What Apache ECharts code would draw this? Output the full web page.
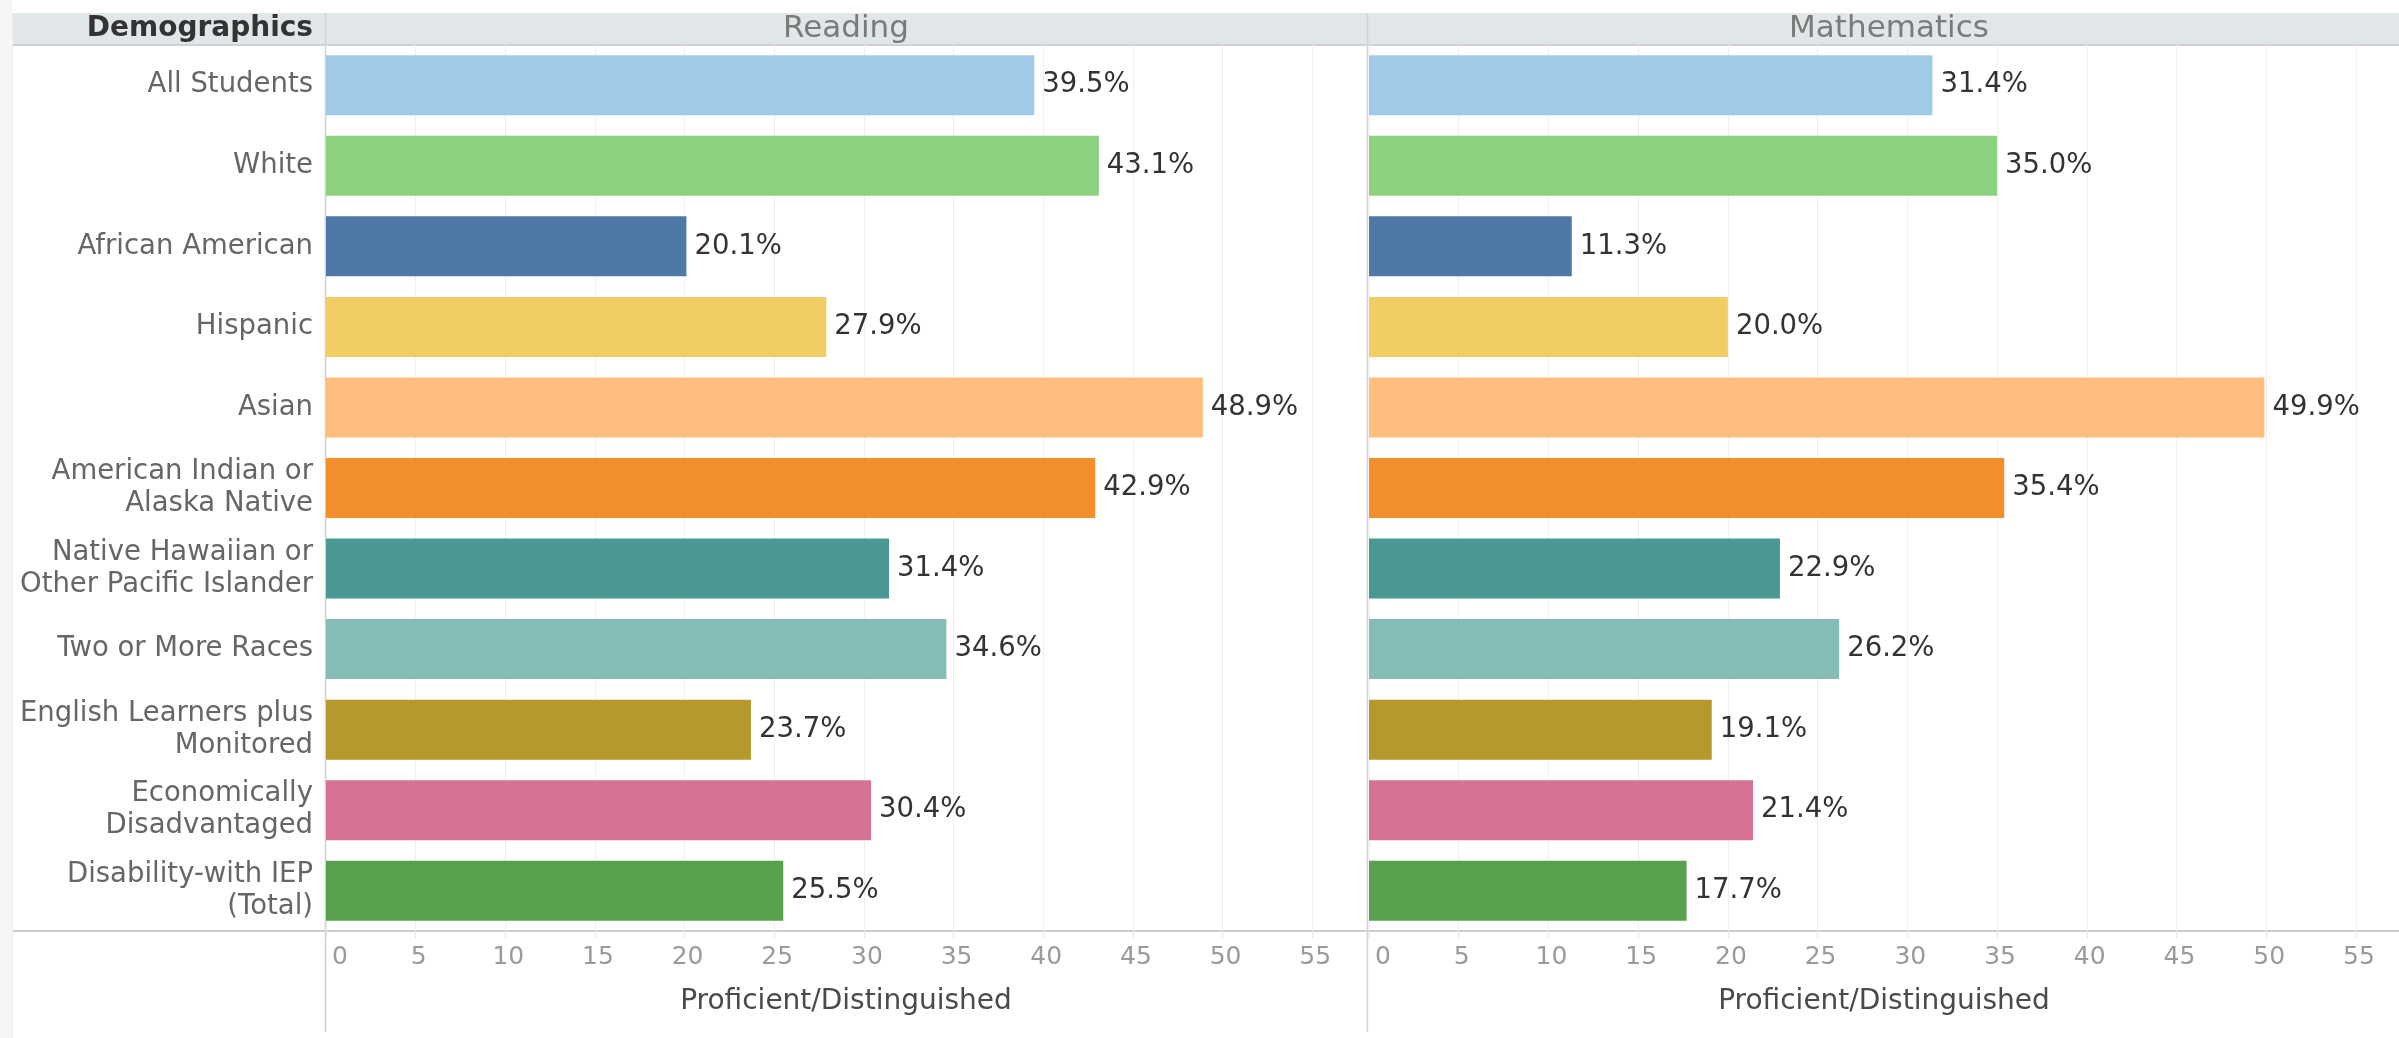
<!DOCTYPE html>
<html>
<head>
<meta charset="utf-8">
<title>Proficient/Distinguished by Demographics</title>
<script src="https://cdn.jsdelivr.net/npm/echarts@6/dist/echarts.min.js"></script>
<style>
  html, body { margin: 0; padding: 0; background: #fff; }
  #chart { width: 2399px; height: 1038px; }
</style>
</head>
<body>
<div id="chart"></div>
<script>
// demographic groups, top to bottom
const categories = [
  'All Students',
  'White',
  'African American',
  'Hispanic',
  'Asian',
  'American Indian or\nAlaska Native',
  'Native Hawaiian or\nOther Pacific Islander',
  'Two or More Races',
  'English Learners plus\nMonitored',
  'Economically\nDisadvantaged',
  'Disability-with IEP\n(Total)'
]
const readingValues = [39.5, 43.1, 20.1, 27.9, 48.9, 42.9, 31.4, 34.6, 23.7, 30.4, 25.5]
const mathValues = [31.4, 35.0, 11.3, 20.0, 49.9, 35.4, 22.9, 26.2, 19.1, 21.4, 17.7]
const barColors = ['#A0CBE8', '#8CD17D', '#4E79A7', '#F1CE63', '#FFBE7D', '#F28E2B',
  '#499894', '#86BCB6', '#B6992D', '#D37295', '#59A14F']
const panelTitles = ['Reading', 'Mathematics']
const axisTitle = 'Proficient/Distinguished'

const FONT = 'DejaVu Sans'
const TOP = 45
const BOTTOM_Y = 931
const panels = [
  { left: 326, width: 1040, max: 58 },
  { left: 1369, width: 1030, max: 57.4 }
]

let chart = echarts.init(document.getElementById('chart'))

let xAxes = panels.map((p, i) => ({
  type: 'value',
  gridIndex: i,
  min: 0,
  max: p.max,
  interval: 5,
  axisLine: { show: false },
  axisTick: { show: true, length: 7, lineStyle: { color: '#e4e4e4' } },
  splitLine: { show: true, lineStyle: { color: '#efefef', width: 1 } },
  axisLabel: {
    fontFamily: FONT, fontSize: 25, color: '#9a9a9a', margin: 14,
    showMaxLabel: false, alignMinLabel: 'left', padding: [0, 0, 0, 6]
  },
  name: axisTitle,
  nameLocation: 'middle',
  nameGap: 57,
  nameTextStyle: { fontFamily: FONT, fontSize: 28, color: '#4a4a4a' }
}))

let yAxes = panels.map((p, i) => ({
  type: 'category',
  gridIndex: i,
  inverse: true,
  data: categories,
  axisLine: { show: false },
  axisTick: { show: false },
  axisLabel: i === 0 ? {
    fontFamily: FONT, fontSize: 27.5, color: '#666', margin: 13, lineHeight: 32, align: 'right'
  } : { show: false }
}))

let series = [readingValues, mathValues].map((vals, i) => ({
  type: 'bar',
  name: panelTitles[i],
  xAxisIndex: i,
  yAxisIndex: i,
  data: vals,
  colorBy: 'data',
  barWidth: 60,
  label: {
    show: true,
    position: 'right',
    distance: 8,
    fontFamily: FONT,
    fontSize: 27.5,
    color: '#333',
    formatter: p => p.value.toFixed(1) + '%'
  }
}))

let line = (x1, y1, x2, y2, color, width) => ({
  type: 'line', silent: true,
  shape: { x1, y1, x2, y2 },
  style: { stroke: color, lineWidth: width || 1 }
})
let text = (t, x, y, align, font, fill) => ({
  type: 'text', silent: true, z: 10,
  style: { text: t, x, y, align, verticalAlign: 'middle', font, fill }
})

let graphics = [
  { type: 'rect', silent: true, shape: { x: 0, y: 0, width: 12, height: 1038 }, style: { fill: '#f6f6f6' } },
  { type: 'rect', silent: true, shape: { x: 13, y: 13, width: 2386, height: 32 }, style: { fill: '#e1e6e8' } },
  line(13, 45, 2399, 45, '#cfd3d5', 2),
  line(13, BOTTOM_Y, 2399, BOTTOM_Y, '#cdcdcd', 2),
  line(325.5, 13, 325.5, 1032, '#d2d2d2', 1.5),
  line(1367.5, 13, 1367.5, 1032, '#d2d2d2', 1.5),
  line(12.5, 13, 12.5, 1038, '#ececec', 1),
  text('Demographics', 313, 29, 'right', 'bold 28px "' + FONT + '"', '#333')
]
panels.forEach((p, i) => {
  graphics.push(text(panelTitles[i], p.left + 520, 29, 'center', '31px "' + FONT + '"', '#7a7a7a'))
})

chart.setOption({
  backgroundColor: '#fff',
  animation: false,
  color: barColors,
  grid: panels.map(p => ({ left: p.left, width: p.width, top: TOP, height: BOTTOM_Y - TOP, containLabel: false })),
  xAxis: xAxes,
  yAxis: yAxes,
  series: series,
  graphic: graphics
})
window.addEventListener('resize', () => chart.resize())
</script>
</body>
</html>
